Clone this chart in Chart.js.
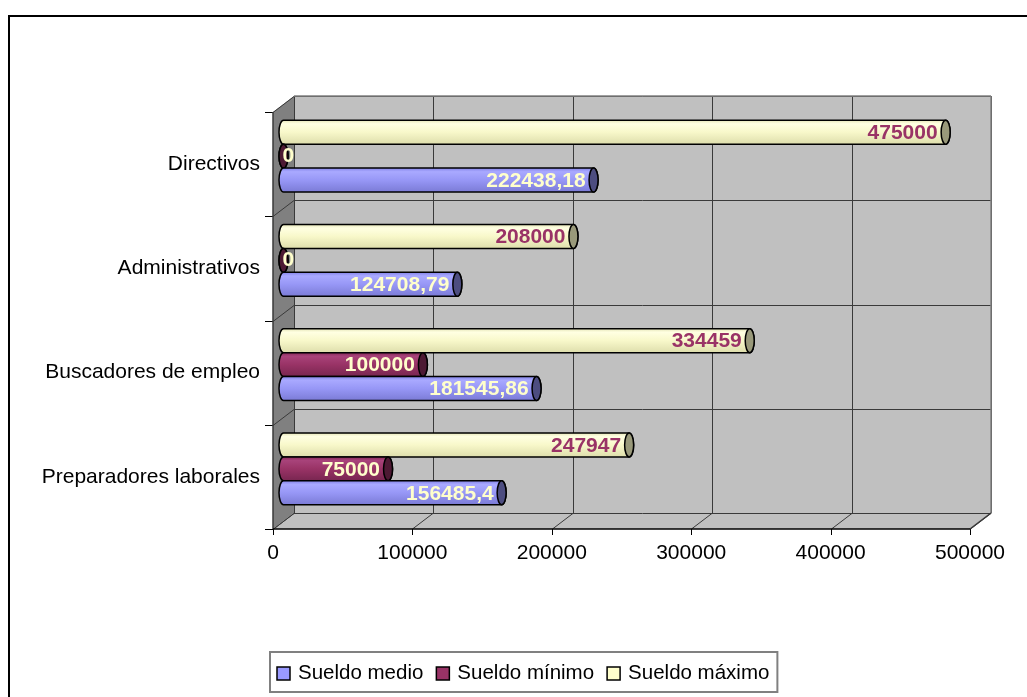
<!DOCTYPE html>
<html>
<head>
<meta charset="utf-8">
<script src="https://cdn.jsdelivr.net/npm/chart.js@4/dist/chart.umd.min.js"></script>
<style>
  html, body { margin: 0; padding: 0; background: #fff; }
  canvas { display: block; }
</style>
</head>
<body>
<canvas id="chart" width="1027" height="697"></canvas>
<script>
// ===== DATA =====
const categories = ['Directivos', 'Administrativos', 'Buscadores de empleo', 'Preparadores laborales'];
const sueldoMedio = [222438.18, 124708.79, 181545.86, 156485.4];
const sueldoMinimo = [0, 0, 100000, 75000];
const sueldoMaximo = [475000, 208000, 334459, 247947];
const xTicks = [0, 100000, 200000, 300000, 400000, 500000];

// ===== STYLE =====
const FONT = '"Liberation Sans", Arial, sans-serif';
const DEPTH = { dx: 21, dy: -16 };          // back wall offset from front plane
const BAR_SHIFT = { dx: 10.5, dy: -8 };     // bars sit half way in
const SERIES_STYLE = {
    'Sueldo medio': {
        swatch: '#9999FF', cap: '#4D4D80', label: '#FFFFCC',
        body: [[0, '#8585E8'], [0.15, '#A9A9FF'], [0.5, '#9797F6'], [1, '#7B7BD6']]
    },
    'Sueldo mínimo': {
        swatch: '#993366', cap: '#4D1933', label: '#FFFFCC',
        body: [[0, '#86295A'], [0.15, '#A8437A'], [0.5, '#993366'], [1, '#782650']]
    },
    'Sueldo máximo': {
        swatch: '#FFFFCC', cap: '#99997A', label: '#993366',
        body: [[0, '#E6E6B8'], [0.15, '#FFFFE2'], [0.5, '#F8F8CA'], [1, '#DEDEAC']]
    }
};

function fmt(v) {
    return String(v).replace('.', ',');
}

function line(ctx, x1, y1, x2, y2) {
    ctx.beginPath();
    ctx.moveTo(x1, y1);
    ctx.lineTo(x2, y2);
    ctx.stroke();
}

function poly(ctx, pts, fill) {
    ctx.beginPath();
    pts.forEach((p, i) => i ? ctx.lineTo(p[0], p[1]) : ctx.moveTo(p[0], p[1]));
    ctx.closePath();
    ctx.fillStyle = fill;
    ctx.fill();
}

/** Draw one horizontal cylinder from x0 to x1 */
function drawCylinder(ctx, x0, x1, yc, h, st) {
    const ry = h / 2, rx = 4.5, top = yc - ry, bot = yc + ry;
    const g = ctx.createLinearGradient(0, top, 0, bot);
    st.body.forEach(([o, c]) => g.addColorStop(o, c));
    ctx.beginPath();
    ctx.ellipse(x0, yc, rx, ry, 0, Math.PI / 2, Math.PI * 1.5);
    ctx.lineTo(x1, top);
    ctx.ellipse(x1, yc, rx, ry, 0, -Math.PI / 2, Math.PI / 2);
    ctx.closePath();
    ctx.fillStyle = g;
    ctx.fill();
    ctx.lineWidth = 1.5;
    ctx.strokeStyle = '#000';
    ctx.stroke();

    ctx.beginPath();
    ctx.ellipse(x1, yc, rx, ry, 0, 0, Math.PI * 2);
    ctx.fillStyle = st.cap;
    ctx.fill();
    ctx.stroke();
}

const threeD = {
    id: 'threeD',
    beforeDraw(chart) {
        const ctx = chart.ctx;
        ctx.save();
        ctx.fillStyle = '#fff';
        ctx.fillRect(0, 0, chart.width, chart.height);
        // outer chart frame (runs off the right and bottom)
        ctx.fillStyle = '#000';
        ctx.fillRect(8, 15, chart.width - 8, 2);
        ctx.fillRect(8, 15, 2, chart.height - 15);
        ctx.restore();
    },
    beforeDatasetsDraw(chart) {
        const { ctx, chartArea: { left: L, right: R, top: T, bottom: B } } = chart;
        const xs = chart.scales.x, ys = chart.scales.y;
        const { dx, dy } = DEPTH;
        ctx.save();
        // walls + floor
        ctx.fillStyle = '#C0C0C0';
        ctx.fillRect(L + dx, T + dy, R - L, B - T);
        poly(ctx, [[L, T], [L + dx, T + dy], [L + dx, B + dy], [L, B]], '#808080');
        poly(ctx, [[L, B], [L + dx, B + dy], [R + dx, B + dy], [R, B]], '#C0C0C0');

        // value gridlines
        ctx.lineWidth = 1;
        xs.ticks.forEach(t => {
            const x = Math.round(xs.getPixelForValue(t.value)) + 0.5;
            ctx.strokeStyle = '#3A3A3A';
            line(ctx, x + dx, T + dy, x + dx, B + dy);
            line(ctx, x, B, x + dx, B + dy);
            ctx.strokeStyle = '#000';
            line(ctx, x, B, x, B + 6);
        });

        // category boundaries
        const n = ys.ticks.length;
        const bounds = [T];
        for (let i = 0; i < n - 1; i++) {
            bounds.push((ys.getPixelForValue(i) + ys.getPixelForValue(i + 1)) / 2);
        }
        bounds.push(B);
        bounds.forEach(yb => {
            const y = Math.round(yb) + 0.5;
            ctx.strokeStyle = '#3A3A3A';
            line(ctx, L + dx, y + dy, R + dx, y + dy);
            line(ctx, L, y, L + dx, y + dy);
            ctx.strokeStyle = '#000';
            line(ctx, L - 8, y, L, y);
        });

        // edges
        ctx.lineWidth = 1.5;
        ctx.strokeStyle = '#808080';
        line(ctx, L + dx, T + dy, R + dx, T + dy);
        line(ctx, R + dx, T + dy, R + dx, B + dy);
        ctx.strokeStyle = '#3A3A3A';
        line(ctx, L, T, L, B);
        line(ctx, R, B, R + dx, B + dy);
        ctx.strokeStyle = '#000';
        line(ctx, L, B, R, B);
        ctx.restore();
    },
    afterDatasetsDraw(chart) {
        const ctx = chart.ctx;
        const labels = [];
        ctx.save();
        chart.data.datasets.forEach((ds, di) => {
            const st = SERIES_STYLE[ds.label];
            chart.getDatasetMeta(di).data.forEach((el, i) => {
                const p = el.getProps(['x', 'y', 'base', 'height'], true);
                const x0 = p.base + BAR_SHIFT.dx, x1 = p.x + BAR_SHIFT.dx, yc = p.y + BAR_SHIFT.dy;
                drawCylinder(ctx, x0, x1, yc, p.height, st);
                labels.push({ text: fmt(ds.data[i]), x0, x1, yc, color: st.label });
            });
        });
        // data labels on top of bars
        ctx.font = 'bold 21px ' + FONT;
        ctx.textBaseline = 'middle';
        labels.forEach(l => {
            const w = ctx.measureText(l.text).width;
            const xr = l.x1 - 8;
            ctx.fillStyle = l.color;
            if (xr - w < l.x0) {
                ctx.textAlign = 'left';
                ctx.fillText(l.text, l.x0 - 1, l.yc);
            } else {
                ctx.textAlign = 'right';
                ctx.fillText(l.text, xr, l.yc + 1);
            }
        });
        ctx.restore();
    },
    afterDraw(chart) {
        // legend box, series listed in reverse of drawing order
        const ctx = chart.ctx;
        const items = chart.data.datasets.slice().reverse();
        ctx.save();
        ctx.font = '20.5px ' + FONT;
        const widths = items.map(d => ctx.measureText(d.label).width);
        const total = 7 + widths.reduce((a, w) => a + 13 + 8 + w, 0) + 13 * (items.length - 1) + 8;
        const left = 270, top = 652, h = 40;
        ctx.strokeStyle = '#808080';
        ctx.lineWidth = 2;
        ctx.strokeRect(left, top, total, h);
        let x = left + 7;
        items.forEach((d, i) => {
            const st = SERIES_STYLE[d.label];
            ctx.fillStyle = st.swatch;
            ctx.fillRect(x, 667, 13, 13);
            ctx.strokeStyle = '#000';
            ctx.lineWidth = 1.5;
            ctx.strokeRect(x, 667, 13, 13);
            ctx.fillStyle = '#000';
            ctx.textBaseline = 'alphabetic';
            ctx.textAlign = 'left';
            ctx.fillText(d.label, x + 21, 679);
            x += 21 + widths[i] + 13;
        });
        ctx.restore();
    }
};

const hidden = 'rgba(0,0,0,0)';

new Chart(document.getElementById('chart'), {
    type: 'bar',
    data: {
        labels: categories,
        datasets: [
            { label: 'Sueldo máximo', data: sueldoMaximo, backgroundColor: hidden, borderWidth: 0 },
            { label: 'Sueldo mínimo', data: sueldoMinimo, backgroundColor: hidden, borderWidth: 0 },
            { label: 'Sueldo medio', data: sueldoMedio, backgroundColor: hidden, borderWidth: 0 }
        ]
    },
    options: {
        indexAxis: 'y',
        responsive: false,
        animation: false,
        layout: { padding: { top: 112, right: 57, left: 0, bottom: 0 } },
        datasets: { bar: { categoryPercentage: 0.69, barPercentage: 1 } },
        plugins: { legend: { display: false }, tooltip: { enabled: false } },
        scales: {
            x: {
                min: 0, max: 500000,
                afterBuildTicks: s => { s.ticks = xTicks.map(v => ({ value: v })); },
                grid: { display: false, drawTicks: false },
                border: { display: false },
                ticks: {
                    color: '#000', padding: 12, maxRotation: 0,
                    font: { family: FONT, size: 21 },
                    callback: v => String(v)
                },
                afterFit: s => { s.height = 697 - 529; }
            },
            y: {
                grid: { display: false, drawTicks: false },
                border: { display: false },
                ticks: { color: '#000', padding: 13, font: { family: FONT, size: 21 } },
                afterFit: s => { s.width = 273; }
            }
        }
    },
    plugins: [threeD]
});
</script>
</body>
</html>
